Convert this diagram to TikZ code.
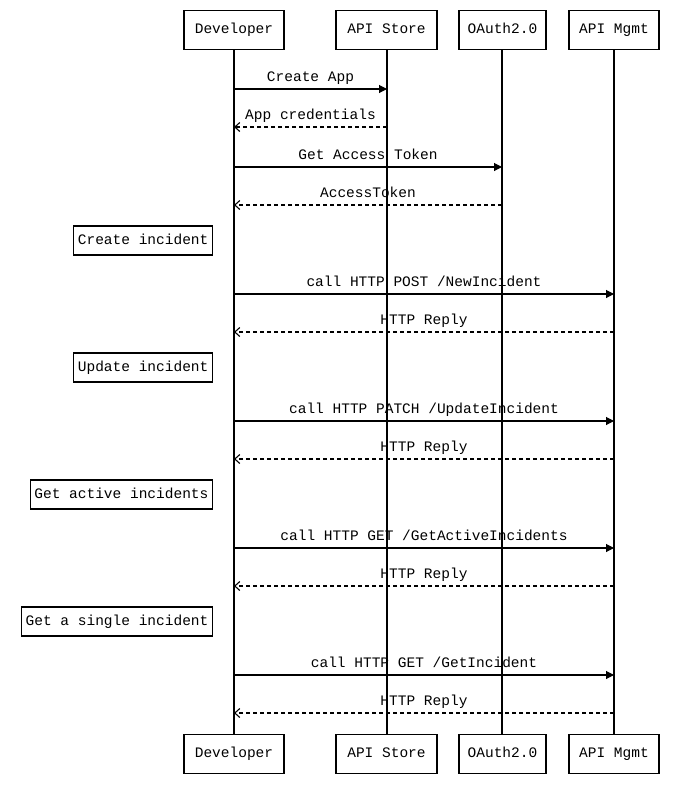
\documentclass[tikz,border=0pt]{standalone}
\usepackage{fontspec}
\setmonofont{Liberation Mono}
\usetikzlibrary{arrows.meta}
\begin{document}
\begin{tikzpicture}[x=1pt,y=-1pt,font=\ttfamily\fontsize{14.5}{16}\selectfont,
  box/.style={draw,line width=1.2pt,fill=white,inner sep=0pt,text height=10pt,text depth=3pt},
  msg/.style={line width=1.1pt,-{Triangle[length=8pt,width=8pt]}},
  rep/.style={line width=1.1pt,dashed,dash pattern=on 4pt off 3pt,-{Straight Barb[length=5pt,width=9pt]}},
  lbl/.style={inner sep=0pt,anchor=base}]
\useasboundingbox (0,0) rectangle (676,788);
% lifelines
\foreach \n/\x in {d/234,s/387,o/502,m/614}{
  \coordinate (\n t) at (\x,50); \coordinate (\n b) at (\x,734);
  \draw[line width=1.2pt] (\n t) -- (\n b);}
\foreach \y/\s in {10/T,734/B}{
  \node[box,minimum width=100pt,minimum height=39pt,anchor=north] (dev\s) at (234,\y) {Developer};
  \node[box,minimum width=101pt,minimum height=39pt,anchor=north] (sto\s) at (386.5,\y) {API Store};
  \node[box,minimum width=87pt,minimum height=39pt,anchor=north] (oau\s) at (502.5,\y) {OAuth2.0};
  \node[box,minimum width=90pt,minimum height=39pt,anchor=north] (mgm\s) at (614,\y) {API Mgmt};
}
% messages
\newcommand\msgline[5]{% style, from x, to x, y, label
  \coordinate (a#4) at (#2,#4); \coordinate (b#4) at (#3,#4);
  \draw[#1] (a#4) -- (b#4);
  \node[lbl] at ({(#2+#3)/2},#4-8) {#5};}
\msgline{msg}{234}{387}{89}{Create App}
\msgline{rep}{387}{234}{127}{App credentials}
\msgline{msg}{234}{502}{167}{Get Access Token}
\msgline{rep}{502}{234}{205}{AccessToken}
\msgline{msg}{234}{614}{294}{call HTTP POST /NewIncident}
\msgline{rep}{614}{234}{332}{HTTP Reply}
\msgline{msg}{234}{614}{421}{call HTTP PATCH /UpdateIncident}
\msgline{rep}{614}{234}{459}{HTTP Reply}
\msgline{msg}{234}{614}{548}{call HTTP GET /GetActiveIncidents}
\msgline{rep}{614}{234}{586}{HTTP Reply}
\msgline{msg}{234}{614}{675}{call HTTP GET /GetIncident}
\msgline{rep}{614}{234}{713}{HTTP Reply}
% notes
\node[box,minimum height=29pt,inner xsep=4pt,anchor=east] (n1) at (213,240.5) {Create incident};
\node[box,minimum height=29pt,inner xsep=4pt,anchor=east] (n2) at (213,367.5) {Update incident};
\node[box,minimum height=29pt,inner xsep=4pt,anchor=east] (n3) at (213,494.5) {Get active incidents};
\node[box,minimum height=29pt,inner xsep=4pt,anchor=east] (n4) at (213,621.5) {Get a single incident};
\end{tikzpicture}
\end{document}
